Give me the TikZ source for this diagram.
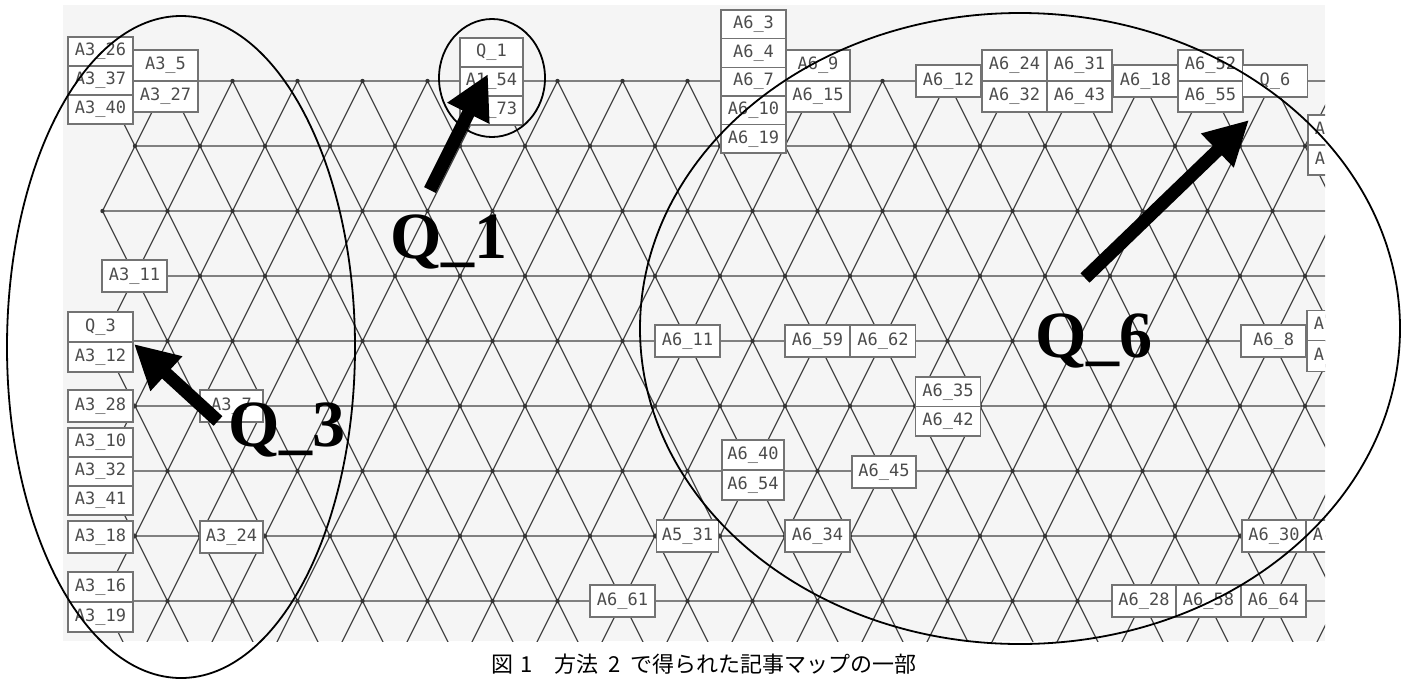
\documentclass[tikz,border=0pt]{standalone}
\usepackage{fontspec}
\setmainfont{Liberation Serif}
\newfontfamily\boxfont{DejaVu Sans Mono}
\newfontfamily\jpfont{Noto Sans CJK JP}
\usetikzlibrary{arrows.meta}
\begin{document}
\begin{tikzpicture}[x=0.5pt,y=-0.5pt,
  hline/.style={draw=black!50,line width=1.1pt},
  dline/.style={draw=black!72,line width=0.6pt},
  vdot/.style={fill=black!80},
  box/.style={draw=black!55,line width=0.7pt,fill=white,inner sep=0pt,
    minimum width=32.5pt,minimum height=16pt,text=black!70,
    font=\boxfont\fontsize{8.5}{9}\selectfont},
  ring/.style={draw=black,line width=0.9pt},
  bigarrow/.style={line width=6.5pt,-{Triangle[length=22pt,width=22pt]}},
  qlab/.style={inner sep=0pt,font=\bfseries\fontsize{33}{33}\selectfont},
  caption/.style={inner sep=0pt,font=\jpfont\fontsize{11}{13}\selectfont}]
\useasboundingbox (0,0) rectangle (1413,681);
\fill[black!4] (63,5) rectangle (1325,641);
\begin{scope}
\clip (63,5) rectangle (1325,641);
% horizontal lines
\foreach \i in {0,...,9}{
  \pgfmathsetmacro{\yy}{81+65*\i}
  \ifodd\i \def\lx{135}\else \def\lx{102.5}\fi
  \draw[hline] (\lx,\yy) -- (1340,\yy);
}
% diagonals
\foreach \i in {0,...,8}{
  \pgfmathsetmacro{\yy}{81+65*\i}
  \ifodd\i \def\lx{135}\def\ks{0}\else \def\lx{102.5}\def\ks{1}\fi
  \foreach \k in {0,...,19}{
    \pgfmathsetmacro{\xx}{\lx+65*\k}
    \draw[dline] (\xx,\yy) -- ++(32.5,65);
    \ifnum\k<\ks\relax\else \draw[dline] (\xx,\yy) -- ++(-32.5,65);\fi
  }
}
% vertex dots
\foreach \i in {0,...,8}{
  \pgfmathsetmacro{\yy}{81+65*\i}
  \ifodd\i \def\lx{135}\else \def\lx{102.5}\fi
  \foreach \k in {0,...,19}{
    \pgfmathsetmacro{\xx}{\lx+65*\k}
    \fill[vdot] (\xx,\yy) circle[radius=1.1pt];
  }
}
% boxes
\node[box,minimum height=14.5pt] (a326) at (100.5,51.5) {A3\_26};
\node[box,minimum height=14.5pt] (a337) at (100.5,80.5) {A3\_37};
\node[box,minimum height=14.5pt] (a340) at (100.5,109.5) {A3\_40};
\node[box,minimum height=15.5pt] (a35) at (165.5,65.5) {A3\_5};
\node[box,minimum height=15.5pt] (a327) at (165.5,96.5) {A3\_27};
\node[box,minimum height=14.5pt,minimum width=31.5pt] (q1) at (491.5,52.5) {Q\_1};
\node[box,minimum height=14.5pt,minimum width=31.5pt] (a154) at (491.5,81.5) {A1\_54};
\node[box,minimum height=14.5pt,minimum width=31.5pt] (a173) at (491.5,110.5) {A1\_73};
\node[box,minimum height=14.3pt] (a63) at (753.5,24.3) {A6\_3};
\node[box,minimum height=14.3pt] (a64) at (753.5,52.9) {A6\_4};
\node[box,minimum height=14.3pt] (a67) at (753.5,81.5) {A6\_7};
\node[box,minimum height=14.3pt] (a610) at (753.5,110.1) {A6\_10};
\node[box,minimum height=14.3pt] (a619) at (753.5,138.7) {A6\_19};
\node[box,minimum height=15.5pt,minimum width=32pt] (a69) at (818,65.5) {A6\_9};
\node[box,minimum height=15.5pt,minimum width=32pt] (a615) at (818,96.5) {A6\_15};
\node[box] (a612) at (948.5,81) {A6\_12};
\node[box,minimum height=15.5pt] (a624) at (1014.5,65.5) {A6\_24};
\node[box,minimum height=15.5pt] (a632) at (1014.5,96.5) {A6\_32};
\node[box,minimum height=15.5pt] (a631) at (1079.5,65.5) {A6\_31};
\node[box,minimum height=15.5pt] (a643) at (1079.5,96.5) {A6\_43};
\node[box] (a618) at (1145.5,81) {A6\_18};
\node[box,minimum height=15.5pt] (a652) at (1210.5,65.5) {A6\_52};
\node[box,minimum height=15.5pt] (a655) at (1210.5,96.5) {A6\_55};
\node[box] (q6) at (1275,81) {Q\_6};
\node[box,minimum height=15pt] (pr1) at (1340.5,130) {A\phantom{6\_00}};
\node[box,minimum height=15pt] (pr2) at (1340.5,160) {A\phantom{6\_00}};
\node[box] (a311) at (134.5,276) {A3\_11};
\node[box,minimum height=15pt] (q3) at (100.5,327) {Q\_3};
\node[box,minimum height=15pt] (a312) at (100.5,357) {A3\_12};
\node[box] (a611) at (687.5,341) {A6\_11};
\node[box] (a659) at (817.5,341) {A6\_59};
\node[box] (a662) at (883,341) {A6\_62};
\node[box] (a68) at (1273.5,341) {A6\_8};
\node[box,minimum height=15.25pt] (pr3) at (1339.5,325.5) {A\phantom{6\_00}};
\node[box,minimum height=15.25pt] (pr4) at (1339.5,356) {A\phantom{6\_00}};
\node[box] (a328) at (100.5,406) {A3\_28};
\node[box,minimum width=31.5pt] (a37) at (231.5,406) {A3\_7};
\node[box,minimum height=14.75pt] (a635) at (948,391.75) {A6\_35};
\node[box,minimum height=14.75pt] (a642) at (948,421.25) {A6\_42};
\node[box,minimum height=14.5pt] (a310) at (100.5,442.5) {A3\_10};
\node[box,minimum height=14.5pt] (a332) at (100.5,471.5) {A3\_32};
\node[box,minimum height=14.5pt] (a341) at (100.5,500.5) {A3\_41};
\node[box,minimum height=15pt,minimum width=31pt] (a640) at (753,455) {A6\_40};
\node[box,minimum height=15pt,minimum width=31pt] (a654) at (753,485) {A6\_54};
\node[box,minimum width=32pt] (a645) at (884,472) {A6\_45};
\node[box] (a318) at (100.5,537) {A3\_18};
\node[box,minimum width=31.5pt] (a324) at (231.5,537) {A3\_24};
\node[box,minimum width=31pt] (a531) at (687.5,536) {A5\_31};
\node[box] (a634) at (817.5,536) {A6\_34};
\node[box,minimum width=32pt] (a630) at (1274,536) {A6\_30};
\node[box] (pr5) at (1338.5,536) {A\phantom{6\_00}};
\node[box,minimum height=15pt] (a316) at (100.5,587) {A3\_16};
\node[box,minimum height=15pt] (a319) at (100.5,617) {A3\_19};
\node[box] (a661) at (622.5,601) {A6\_61};
\node[box,minimum width=32pt] (a628) at (1144,601) {A6\_28};
\node[box] (a658) at (1208.5,601) {A6\_58};
\node[box] (a664) at (1273.5,601) {A6\_64};
\end{scope}
% rings
\draw[ring] (181,347) ellipse [x radius=87pt, y radius=165.5pt];
\draw[ring] (492,78) ellipse [x radius=26.5pt, y radius=29.5pt];
\draw[ring] (1020,328.5) ellipse [x radius=190pt, y radius=157.75pt];
% arrows
\coordinate (q1tail) at (430,190);
\coordinate (q1tip) at (488,74);
\coordinate (q3tail) at (218,421);
\coordinate (q3tip) at (134,344);
\coordinate (q6tail) at (1085,278);
\coordinate (q6tip) at (1249,120);
\draw[bigarrow] (q1tail) -- (q1tip);
\draw[bigarrow] (q3tail) -- (q3tip);
\draw[bigarrow] (q6tail) -- (q6tip);
% labels
\node[qlab,anchor=base west] (q1lab) at (390,258) {Q\_1};
\node[qlab,anchor=base west] (q3lab) at (228,446) {Q\_3};
\node[qlab,anchor=base west] (q6lab) at (1035,357) {Q\_6};
\node[caption,anchor=east] (cap) at (917,664) {図\hspace{3.5pt}1\hspace{11pt}方法\hspace{5pt}2\hspace{5pt}で得られた記事マップの一部};
\end{tikzpicture}
\end{document}
